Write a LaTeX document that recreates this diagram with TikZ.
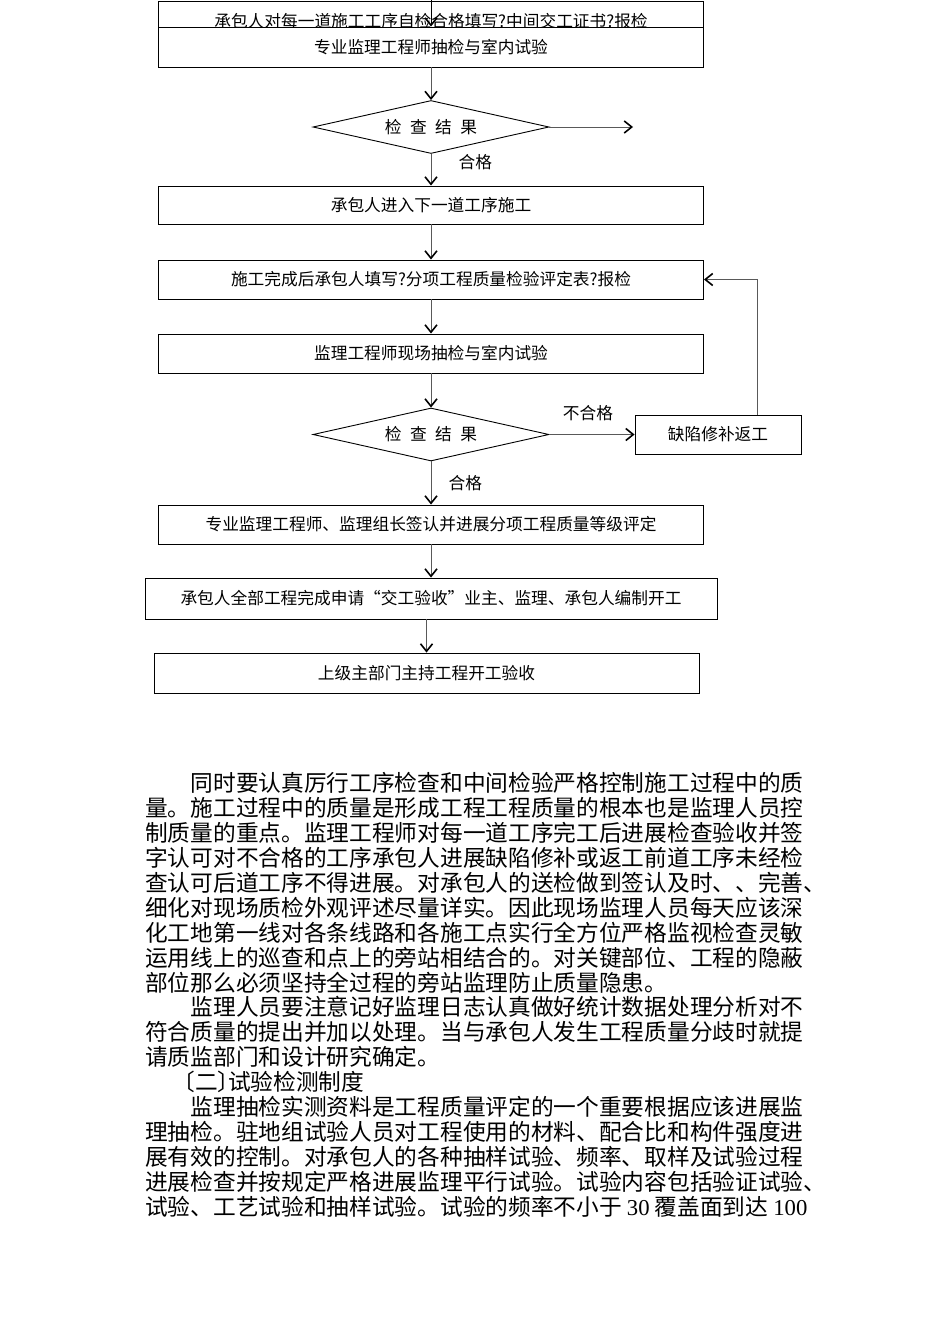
\documentclass[tikz,border=0pt]{standalone}
\usepackage{fontspec}
\setmainfont{Noto Sans CJK SC}
\newfontfamily\lat{Liberation Serif}
\usetikzlibrary{shapes.geometric,arrows.meta}

\tikzset{
  box/.style={draw, line width=0.9pt, fill=white, inner sep=0pt, minimum width=545, minimum height=39,
    font=\fontsize{16.7}{18}\selectfont},
  test/.style={diamond, draw, line width=0.9pt, aspect=4.5, inner sep=0pt, minimum width=236, minimum height=53,
    font=\fontsize{16.7}{18}\selectfont},
  lab/.style={font=\fontsize{16.7}{18}\selectfont},
  arr/.style={draw=black!65, line width=0.6pt, -{Straight Barb[length=7.5pt,width=12pt,line width=1.6pt,color=black]}},
  para/.style={anchor=base west, inner sep=0pt, font=\fontsize{22.7}{25}\selectfont}
}
\newcommand{\gapsp}{\hskip 8.5pt}

\begin{document}
\begin{tikzpicture}[x=1pt, y=-1pt]
\useasboundingbox (0,0) rectangle (950,1344);
\node[box, minimum height=26] (b1) at (431,14) {};
\node[lab, inner sep=0pt] (b1t) at (431,21) {承包人对每一道施工工序自检合格填写?中间交工证书?报检};
\coordinate (top) at (431,0);
\node[box, minimum height=40] (b2) at (431,47) {专业监理工程师抽检与室内试验};
\node[test] (d1) at (431,127) {检\gapsp 查\gapsp 结\gapsp 果};
\coordinate (d1out) at (633,127);
\node[box, minimum height=38] (b3) at (431,205) {承包人进入下一道工序施工};
\node[box] (b4) at (431,279.5) {施工完成后承包人填写?分项工程质量检验评定表?报检};
\node[box] (b5) at (431,353.5) {监理工程师现场抽检与室内试验};
\node[test] (d2) at (431,434.5) {检\gapsp 查\gapsp 结\gapsp 果};
\node[box, minimum width=166] (b6) at (718,434.5) {缺陷修补返工};
\node[box] (b7) at (431,524.5) {专业监理工程师、监理组长签认并进展分项工程质量等级评定};
\node[box, minimum width=572, minimum height=41] (b8) at (431,598.5) {承包人全部工程完成申请“交工验收”业主、监理、承包人编制开工};
\node[box, minimum height=40] (b9) at (426.5,673) {上级主部门主持工程开工验收};

\draw[arr, draw=black] (top) -- (b2.north);
\draw[arr] (b2) -- (d1);
\draw[arr] (d1.east) -- (d1out);
\draw[arr] (d1) -- node[lab, right=24pt, pos=0.25] (ok1) {合格} (b3);
\draw[arr] (b3) -- (b4);
\draw[arr] (b4) -- (b5);
\draw[arr] (b5) -- (d2);
\draw[arr] (d2.east) -- node[lab, above=10pt, xshift=-4pt] (fail) {不合格} (b6.west);
\draw[arr] ([xshift=39]b6.north) |- (b4.east);
\draw[arr] (d2) -- node[lab, right=14pt, pos=0.5] (ok2) {合格} (b7);
\draw[arr] (b7) -- (b8);
\draw[arr] (b8.south -| b9.north) -- (b9.north);

\foreach \t [count=\i] in {
  {\hspace*{2em}同时要认真厉行工序检查和中间检验严格控制施工过程中的质},
  {量。施工过程中的质量是形成工程工程质量的根本也是监理人员控},
  {制质量的重点。监理工程师对每一道工序完工后进展检查验收并签},
  {字认可对不合格的工序承包人进展缺陷修补或返工前道工序未经检},
  {查认可后道工序不得进展。对承包人的送检做到签认及时、、完善、},
  {细化对现场质检外观评述尽量详实。因此现场监理人员每天应该深},
  {化工地第一线对各条线路和各施工点实行全方位严格监视检查灵敏},
  {运用线上的巡查和点上的旁站相结合的。对关键部位、工程的隐蔽},
  {部位那么必须坚持全过程的旁站监理防止质量隐患。},
  {\hspace*{2em}监理人员要注意记好监理日志认真做好统计数据处理分析对不},
  {符合质量的提出并加以处理。当与承包人发生工程质量分歧时就提},
  {请质监部门和设计研究确定。},
  {\hspace*{1.2em}〔二〕\hspace{-0.55em}试验检测制度},
  {\hspace*{2em}监理抽检实测资料是工程质量评定的一个重要根据应该进展监},
  {理抽检。驻地组试验人员对工程使用的材料、配合比和构件强度进},
  {展有效的控制。对承包人的各种抽样试验、频率、取样及试验过程},
  {进展检查并按规定严格进展监理平行试验。试验内容包括验证试验、},
  {试验、工艺试验和抽样试验。试验的频率不小于 {\lat 30} 覆盖面到达 {\lat 100}}}
  \node[para] (p\i) at (145, {791.5+24.94*(\i-1)}) {\t};
\end{tikzpicture}
\end{document}
